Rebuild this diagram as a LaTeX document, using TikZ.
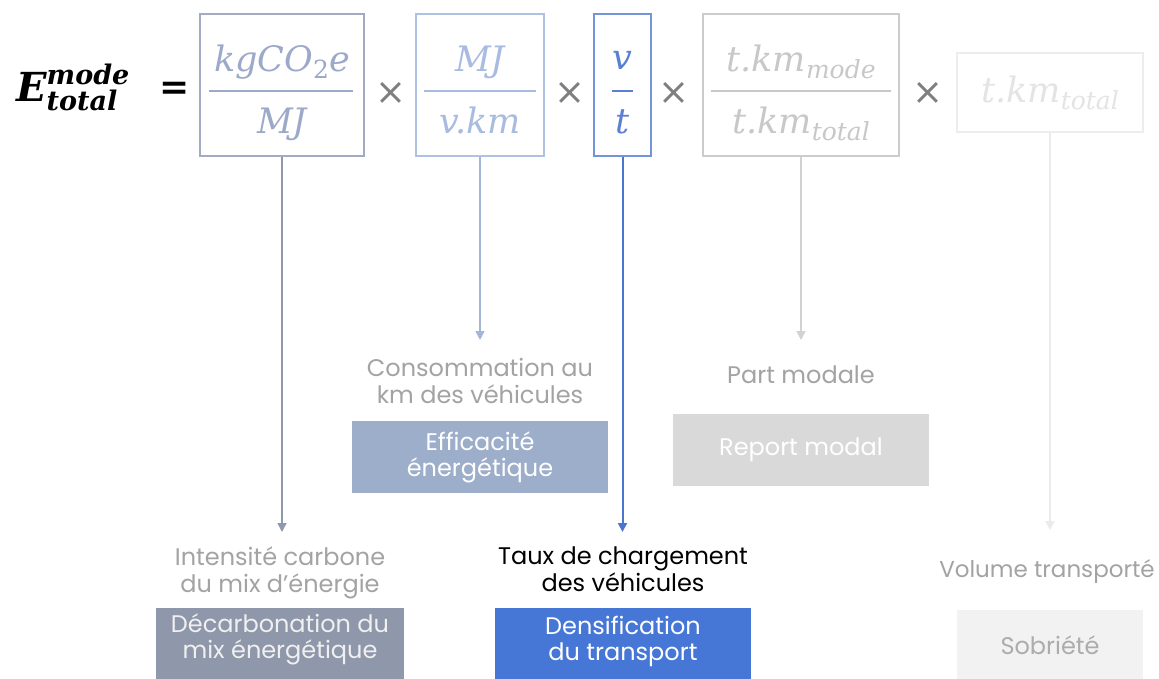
\documentclass[tikz,border=0pt]{standalone}
\usepackage{fontspec}
\setmainfont{Poppins}
\newfontfamily\eqfont{DejaVu Serif}
\newfontfamily\opfont{DejaVu Sans}
\usetikzlibrary{arrows.meta}
\definecolor{boxA}{HTML}{A3ABC2}
\definecolor{txtA}{HTML}{9CA9C8}
\definecolor{boxB}{HTML}{B0C2E4}
\definecolor{txtB}{HTML}{A8BBE0}
\definecolor{boxC}{HTML}{7393DA}
\definecolor{txtC}{HTML}{5B80D3}
\definecolor{boxD}{HTML}{CCCCCC}
\definecolor{txtD}{HTML}{C8C8C8}
\definecolor{boxE}{HTML}{EDEDED}
\definecolor{txtE}{HTML}{E4E4E4}
\definecolor{arrA}{HTML}{8F98AE}
\definecolor{arrB}{HTML}{A4B5D8}
\definecolor{arrC}{HTML}{4A76CF}
\definecolor{arrD}{HTML}{D2D2D2}
\definecolor{arrE}{HTML}{EBEBEB}
\definecolor{fillA}{HTML}{8F97AB}
\definecolor{fillB}{HTML}{9DAECB}
\definecolor{fillC}{HTML}{4677D6}
\definecolor{fillD}{HTML}{D9D9D9}
\definecolor{fillE}{HTML}{F2F2F2}
\definecolor{labgray}{HTML}{A3A3A3}
\definecolor{opgray}{HTML}{7F7F7F}
\newcommand\lo[1]{\raisebox{-7pt}{\fontsize{25}{25}\selectfont #1}}
\newcommand\EqSize{\fontsize{35}{40}\selectfont}
\tikzset{
  fbox/.style={draw, line width=2pt, minimum height=142pt, inner sep=0pt},
  eqtext/.style={font=\eqfont\itshape\EqSize, inner sep=0pt, anchor=base},
  frline/.style={line width=2pt},
  optext/.style={font=\opfont\fontsize{37}{37}\selectfont, text=opgray, inner sep=0pt},
  lab/.style={font=\fontsize{24}{27}\selectfont, align=center, inner sep=0pt, anchor=north},
  act/.style={inner sep=0pt, minimum width=256pt, minimum height=72pt},
  acttxt/.style={font=\fontsize{24}{26}\selectfont, align=center, inner sep=0pt, text=white},
  arr/.style={line width=1.6pt, -{Triangle[width=9pt,length=9pt]}},
}
\begin{document}
\begin{tikzpicture}[x=1pt,y=-1pt]
\useasboundingbox[fill=white] (0,0) rectangle (1159,679);

% left-hand side
\node[anchor=base west, inner sep=0pt, font=\eqfont\bfseries\itshape\fontsize{40}{40}\selectfont] (E) at (16,102)
  {E\rlap{\raisebox{17pt}{\fontsize{27}{27}\selectfont mode}}\raisebox{-9pt}{\fontsize{27}{27}\selectfont total}};
\node[inner sep=0pt, font=\eqfont\bfseries\fontsize{36}{36}\selectfont] (eq) at (175,91) {=};

% factor boxes
\node[fbox, draw=boxA, minimum width=164pt] (f1) at (282,85) {};
\node[eqtext, text=txtA] (n1) at (282,72) {kgCO\lo{\upshape 2}e};
\node[eqtext, text=txtA] (d1) at (282,134) {MJ};
\draw[frline, txtA] (209,91) -- (353,91);

\node[fbox, draw=boxB, minimum width=128pt] (f2) at (480,85) {};
\node[eqtext, text=txtB] (n2) at (480,72) {MJ};
\node[eqtext, text=txtB] (d2) at (480,134) {v.km};
\draw[frline, txtB] (424,91) -- (536,91);

\node[fbox, draw=boxC, minimum width=57pt] (f3) at (622.5,85) {};
\node[eqtext, text=txtC] (n3) at (622.5,70) {v};
\node[eqtext, text=txtC] (d3) at (622.5,134) {t};
\draw[frline, txtC] (612,91) -- (633,91);

\node[fbox, draw=boxD, minimum width=196pt] (f4) at (801,85) {};
\node[eqtext, text=txtD] (n4) at (801,72) {t.km\lo{mode}};
\node[eqtext, text=txtD] (d4) at (801,134) {t.km\lo{total}};
\draw[frline, txtD] (711,91) -- (891,91);

\node[fbox, draw=boxE, minimum width=186pt, minimum height=79pt] (f5) at (1050,92.5) {};
\node[eqtext, text=txtE] (t5) at (1050,103) {t.km\lo{total}};

% operators
\node[optext] (o1) at (391,93) {×};
\node[optext] (o2) at (570,93) {×};
\node[optext] (o3) at (674,93) {×};
\node[optext] (o4) at (928,93) {×};

% labels
\node[lab, text=labgray] (l1) at (280,547) {Intensité carbone\\du mix d’énergie};
\node[lab, text=labgray] (l2) at (480,358) {Consommation au\\km des véhicules};
\node[lab, text=black] (l3) at (623,547) {Taux de chargement\\des véhicules};
\node[lab, text=labgray] (l4) at (801,366) {Part modale};
\node[lab, text=labgray, font=\fontsize{23}{27}\selectfont] (l5) at (1047,559) {Volume transporté};

% action boxes
\node[fill=fillA, minimum width=248pt, minimum height=90pt, anchor=north, inner sep=0pt] (b1) at (280,608) {};
\node[acttxt, text=white!94!black] (b1t) at (280,639) {Décarbonation du\\mix énergétique};
\node[act, acttxt, fill=fillB] (b2) at (480,457) {Efficacité\\énergétique};
\node[fill=fillC, minimum width=256pt, minimum height=90pt, anchor=north, inner sep=0pt] (b3) at (623,608) {};
\node[acttxt] (b3t) at (623,641) {Densification\\du transport};
\node[act, acttxt, fill=fillD] (b4) at (801,450) {Report modal};
\node[fill=fillE, minimum width=186pt, minimum height=90pt, anchor=north, inner sep=0pt] (b5) at (1050,610) {};
\node[acttxt, text=labgray!90!white] (b5t) at (1050,645) {Sobriété};

% arrows
\draw[arr, arrA, shorten >=15pt] (f1.south) -- (f1.south |- l1.north);
\draw[arr, arrB, shorten >=18pt] (f2.south) -- (f2.south |- l2.north);
\draw[arr, arrC, line width=2pt, shorten >=15pt] (f3.south) -- (f3.south |- l3.north);
\draw[arr, arrD, shorten >=26pt] (f4.south) -- (f4.south |- l4.north);
\draw[arr, arrE, shorten >=29pt] (f5.south) -- (f5.south |- l5.north);
\end{tikzpicture}
\end{document}
